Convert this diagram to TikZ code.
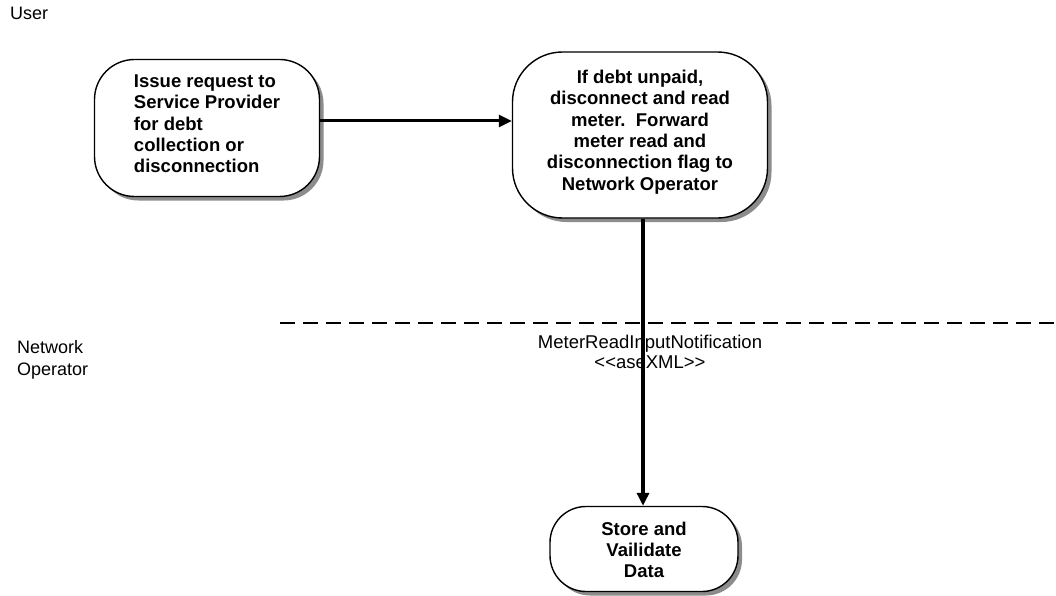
\documentclass[tikz,border=0pt]{standalone}
\usepackage{fontspec}
\newfontfamily\arial{Liberation Sans}
\usetikzlibrary{arrows.meta,shadows}
\begin{document}
\begin{tikzpicture}[x=1pt,y=-1pt,
  proc/.style={draw=black, line width=1.4pt, fill=white, inner sep=0pt,
    drop shadow={shadow xshift=4pt, shadow yshift=-4pt, fill=black!45, opacity=1}},
  ptext/.style={font=\arial\bfseries\fontsize{18.5}{21.3}\selectfont, inner sep=0pt},
  flow/.style={line width=3pt, -{Triangle[length=13pt,width=12pt]}},
  lane/.style={font=\arial\fontsize{18}{22}\selectfont, inner sep=0pt, align=left},
  lbl/.style={font=\arial\fontsize{18.5}{18}\selectfont, inner sep=0pt, align=center}
]
\useasboundingbox (0,0) rectangle (1056,596);
\node[lane, anchor=base west] (user) at (10,20) {User};
\node[lane, anchor=base west] (netop) at (17,375) {Network\\Operator};
\draw[line width=1.5pt, dash pattern=on 15pt off 8pt] (280,323) coordinate (d1) -- (1056,323) coordinate (d2);

\node[proc, rounded corners=40pt, minimum width=225pt, minimum height=137pt,
  label={[ptext, align=left, yshift=4pt]center:Issue request to\\Service Provider\\for debt\\collection or\\disconnection}]
  (n1) at (207,128) {};
\node[proc, rounded corners=50pt, minimum width=255pt, minimum height=166pt,
  label={[ptext, align=center, yshift=3pt]center:If debt unpaid,\\disconnect and read\\meter.\ \ Forward\\meter read and\\disconnection flag to\\Network Operator}]
  (n2) at (640,135) {};
\node[proc, rounded corners=36pt, minimum width=188pt, minimum height=85pt,
  label={[ptext, align=center, yshift=-1pt]center:Store and\\Vailidate\\Data}]
  (n3) at (644,549) {};

\node[lbl] (lab) at (650,352) {MeterReadInputNotification\\[2pt]<<aseXML>>};

\draw[flow] ([yshift=7pt]n1.east) -- ([yshift=7pt]n1.east -| n2.west);
\draw[flow, line width=3.5pt] ([xshift=3pt]n2.south) -- ([xshift=3pt]n2.south |- n3.north);
\end{tikzpicture}
\end{document}
